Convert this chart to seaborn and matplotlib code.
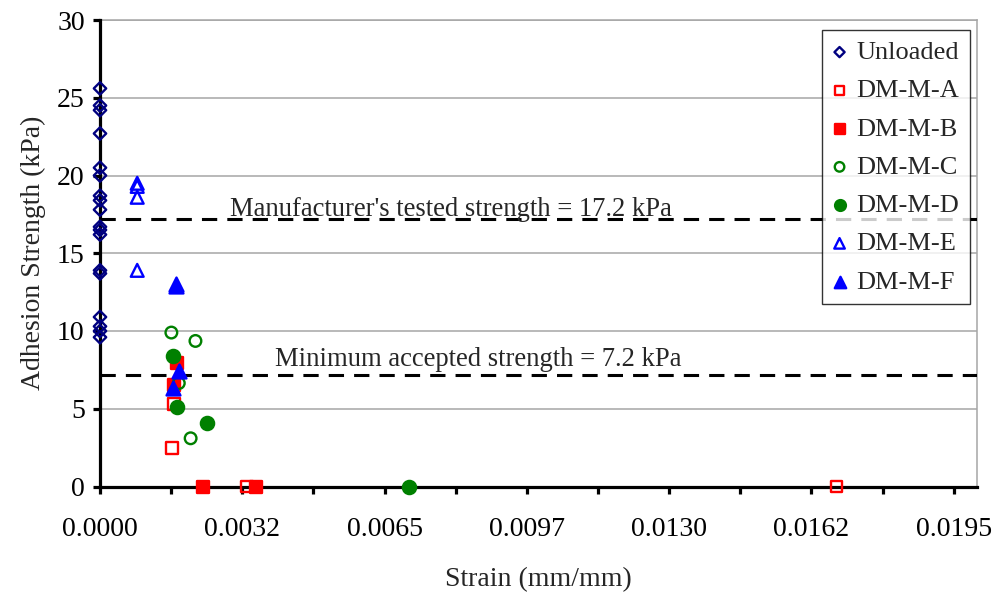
import numpy as np
import pandas as pd
import matplotlib
matplotlib.use("Agg")
import matplotlib.pyplot as plt
import seaborn as sns

# ---- data ----
unloaded_y = [25.6, 24.5, 24.2, 22.7, 20.5, 20.0, 18.7, 18.4, 17.8, 16.7, 16.5,
              16.2, 13.9, 13.7, 10.9, 10.3, 10.0, 9.6]
unloaded_x = [0.0] * len(unloaded_y)

a_x = [0.00169, 0.00165, 0.00335, 0.01682]
a_y = [5.3, 2.5, 0.0, 0.0]
b_x = [0.00176, 0.00169, 0.00235, 0.00357]
b_y = [7.96, 6.55, 0.0, 0.0]
c_x = [0.00163, 0.00218, 0.00180, 0.00207]
c_y = [9.9, 9.36, 6.65, 3.1]
d_x = [0.00167, 0.00176, 0.00244, 0.00705]
d_y = [8.4, 5.1, 4.1, 0.0]
e_x = [0.00085, 0.00085, 0.00085, 0.00085]
e_y = [19.5, 19.3, 18.6, 13.9]
f_x = [0.00173, 0.00173, 0.00180, 0.00167]
f_y = [13.0, 12.9, 7.45, 6.35]

series_names = ["Unloaded", "DM-M-A", "DM-M-B", "DM-M-C", "DM-M-D", "DM-M-E", "DM-M-F"]
manufacturer_strength = 17.2
minimum_strength = 7.2
x_tick_labels = ["0.0000", "0.0032", "0.0065", "0.0097", "0.0130", "0.0162", "0.0195"]

sns.set_theme(style="white")
plt.rcParams["font.family"] = ["Liberation Serif", "DejaVu Serif"]

fig = plt.figure(figsize=(9.95, 5.94), dpi=100)
ax = fig.add_axes([100/995, 1-486.5/594, 877/995, 466.5/594])

styles = [
    (unloaded_x, unloaded_y, "D", "#000080", False, 40),
    (a_x, a_y, "s", "#FF0000", False, 72),
    (b_x, b_y, "s", "#FF0000", True, 78),
    (c_x, c_y, "o", "#008000", False, 70),
    (d_x, d_y, "o", "#008000", True, 90),
    (e_x, e_y, "^", "#0000FF", False, 85),
    (f_x, f_y, "^", "#0000FF", True, 100),
]

for name, (xs, ys, mk, col, filled, s) in zip(series_names, styles):
    df = pd.DataFrame({"strain": xs, "strength": ys})
    sns.scatterplot(data=df, x="strain", y="strength", ax=ax, marker=mk, s=s,
                    color=col, facecolor=(col if filled else "none"),
                    edgecolor=col, linewidth=1.7, label=name, zorder=5,
                    clip_on=False)

dash = (0, (5, 3.3))
ax.axhline(manufacturer_strength, color="black", lw=2.2, ls=dash, zorder=3)
ax.axhline(minimum_strength, color="black", lw=2.2, ls=dash, zorder=3)
ax.text(0.00297, manufacturer_strength + 0.22, "Manufacturer's tested strength = 17.2 kPa",
        fontsize=19.2, ha="left", va="baseline", zorder=4)
ax.text(0.00400, minimum_strength + 0.58, "Minimum accepted strength = 7.2 kPa",
        fontsize=19.2, ha="left", va="baseline", zorder=4)

ax.set_xlim(0, 0.02003)
ax.set_ylim(0, 30)
major = [0.0, 0.00325, 0.0065, 0.00975, 0.013, 0.01625, 0.0195]
ax.set_xticks(major)
ax.set_xticklabels(x_tick_labels)
ax.set_xticks([0.001625 + 0.00325 * k for k in range(6)], minor=True)
ax.set_yticks([0, 5, 10, 15, 20, 25, 30])
ax.set_yticklabels(["0", "5", "10", "15", "20", "25", "30"])

ax.grid(False)
for yv in [5, 10, 15, 20, 25, 30]:
    ax.axhline(yv, color="#A6A6A6", lw=1.1, zorder=1)

for sp in ["left", "bottom"]:
    ax.spines[sp].set_color("black")
    ax.spines[sp].set_linewidth(2.3)
    ax.spines[sp].set_zorder(4)
for sp in ["right", "top"]:
    ax.spines[sp].set_color("#A6A6A6")
    ax.spines[sp].set_linewidth(1.1)

ax.tick_params(axis="both", which="both", direction="out", length=5, width=2.3,
               color="black", labelsize=20, labelcolor="black")
ax.tick_params(axis="x", which="both", bottom=True, pad=17)
ax.tick_params(axis="y", which="both", left=True, pad=6)

ax.set_xlabel("Strain (mm/mm)", fontsize=20, labelpad=18)
ax.set_ylabel("Adhesion Strength (kPa)", fontsize=20, labelpad=8)

leg = ax.legend(loc="upper right", bbox_to_anchor=(970/995, 1-30/594),
                bbox_transform=fig.transFigure, borderaxespad=0, frameon=True,
                fancybox=False, edgecolor="black", fontsize=19, labelspacing=0.56,
                handletextpad=0.4, handlelength=0.5, borderpad=0.4, markerscale=0.82)
leg.get_frame().set_linewidth(1.0)

fig.savefig("out.png", dpi=100)
